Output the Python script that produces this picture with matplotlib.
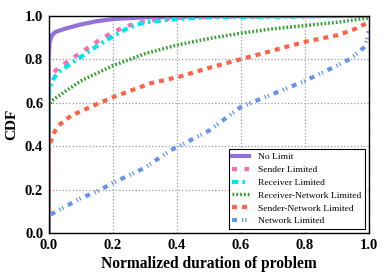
import matplotlib
matplotlib.use("Agg")
import matplotlib.pyplot as plt

plt.rcParams['font.family'] = ['Liberation Serif', 'DejaVu Serif']

# CDF points
no_limit_x = [0.0, 0.0, 0.003, 0.01, 0.02, 0.05, 0.1, 0.15, 0.2, 0.3, 0.5, 1.0]
no_limit_y = [0.0, 0.80, 0.88, 0.91, 0.925, 0.94, 0.96, 0.975, 0.985, 0.993, 0.998, 1.0]

sender_x = [0.0, 0.0, 0.01, 0.03, 0.05, 0.1, 0.15, 0.2, 0.25, 0.3, 0.4, 0.5, 1.0]
sender_y = [0.0, 0.70, 0.73, 0.76, 0.78, 0.83, 0.88, 0.925, 0.955, 0.975, 0.99, 0.995, 1.0]

receiver_x = [0.0, 0.0, 0.01, 0.03, 0.05, 0.1, 0.15, 0.2, 0.25, 0.3, 0.4, 0.5, 1.0]
receiver_y = [0.0, 0.64, 0.70, 0.74, 0.76, 0.81, 0.86, 0.905, 0.945, 0.97, 0.985, 0.993, 1.0]

recv_net_x = [0.0, 0.0, 0.01, 0.03, 0.05, 0.1, 0.2, 0.3, 0.4, 0.5, 0.6, 0.7, 0.8, 0.9, 1.0]
recv_net_y = [0.0, 0.58, 0.61, 0.63, 0.65, 0.70, 0.77, 0.825, 0.865, 0.895, 0.92, 0.94, 0.955, 0.97, 0.99]

send_net_x = [0.0, 0.0, 0.01, 0.02, 0.035, 0.07, 0.13, 0.2, 0.32, 0.41, 0.5, 0.6, 0.7, 0.8, 0.9, 0.95, 1.0]
send_net_y = [0.0, 0.38, 0.44, 0.47, 0.50, 0.54, 0.58, 0.625, 0.69, 0.72, 0.76, 0.80, 0.84, 0.88, 0.91, 0.935, 0.97]

network_x = [0.0, 0.0, 0.05, 0.1, 0.15, 0.2, 0.3, 0.38, 0.5, 0.6, 0.7, 0.8, 0.9, 0.94, 0.99, 1.0]
network_y = [0.0, 0.08, 0.12, 0.16, 0.19, 0.23, 0.30, 0.38, 0.47, 0.58, 0.64, 0.70, 0.77, 0.80, 0.86, 0.93]

ticks = [0.0, 0.2, 0.4, 0.6, 0.8, 1.0]

fig = plt.figure(figsize=(3.88, 2.77), dpi=100)
ax = fig.add_axes([0.1255, 0.159, 0.825, 0.784])

ax.plot(no_limit_x, no_limit_y, color='#9370DB', lw=3, label='No Limit')
ax.plot(sender_x, sender_y, color='#FF69B4', lw=3, dashes=(1.2, 1.8), label='Sender Limited')
ax.plot(receiver_x, receiver_y, color='#00E5EE', lw=3, dashes=(1.5, 1, 0.6, 1), label='Receiver Limited')
ax.plot(recv_net_x, recv_net_y, color='#33A02C', lw=2.5, dashes=(0.5, 0.6), label='Receiver-Network Limited')
ax.plot(send_net_x, send_net_y, color='#FF6347', lw=3, dashes=(1.2, 1.2), label='Sender-Network Limited')
ax.plot(network_x, network_y, color='#6495ED', lw=3, dashes=(1.2, 1.2, 0.3, 0.5, 0.3, 1.2), label='Network Limited')

ax.set_xlim(0, 1)
ax.set_ylim(0, 1)
ax.set_xticks(ticks)
ax.set_yticks(ticks)
ax.grid(True, ls=':', color='#999999', lw=0.9)
ax.tick_params(length=0, labelsize=10.5, pad=4)
for lbl in ax.get_xticklabels() + ax.get_yticklabels():
    lbl.set_fontweight('bold')
for sp in ax.spines.values():
    sp.set_color('black')
    sp.set_linewidth(1.0)

ax.set_xlabel('Normalized duration of problem', fontsize=11.2, fontweight='bold', labelpad=3)
ax.set_ylabel('CDF', fontsize=11, fontweight='bold', labelpad=5)

leg = ax.legend(loc='lower right', fontsize=6.8, frameon=True, fancybox=False,
                edgecolor='black', framealpha=1, handlelength=1.7, handletextpad=1.0,
                borderaxespad=0.4, labelspacing=0.45)
leg.get_frame().set_linewidth(0.8)

fig.savefig('out.png', dpi=100)
